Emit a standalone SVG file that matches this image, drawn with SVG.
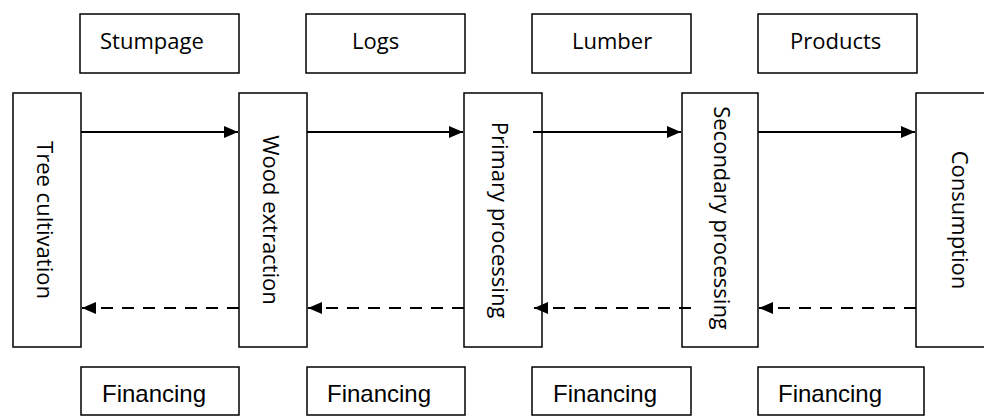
<svg xmlns="http://www.w3.org/2000/svg" width="984" height="419" viewBox="0 0 984 419">
  <style>
    .box { fill: #ffffff; stroke: #000000; stroke-width: 1.5; }
    .lbl { font-family: "Open Sans", "DejaVu Sans", sans-serif; font-size: 22px; fill: #000000; }
    .vlbl { font-family: "Open Sans", "DejaVu Sans", sans-serif; font-size: 22px; fill: #000000; text-anchor: middle; dominant-baseline: central; }
    .fin { font-family: "Liberation Sans", Arial, sans-serif; font-size: 24px; fill: #000000; }
    .flow { fill: none; stroke: #000000; stroke-width: 2; }
    .money { fill: none; stroke: #000000; stroke-width: 2; stroke-dasharray: 12 9; }
  </style>
  <defs>
    <marker id="head" viewBox="0 0 14 12" refX="14" refY="6" markerWidth="14" markerHeight="12" markerUnits="userSpaceOnUse" orient="auto">
      <path d="M0,0 L14,6 L0,12 Z" fill="#000000"/>
    </marker>
  </defs>

  <rect width="984" height="419" fill="#ffffff"/>

  <!-- goods labels along the top -->
  <g id="stumpage"><rect class="box" x="80" y="14" width="159" height="59"/><text class="lbl" x="100" y="49">Stumpage</text></g>
  <g id="logs"><rect class="box" x="306" y="14" width="159" height="59"/><text class="lbl" x="352" y="49">Logs</text></g>
  <g id="lumber"><rect class="box" x="532" y="14" width="159" height="59"/><text class="lbl" x="572" y="49">Lumber</text></g>
  <g id="products"><rect class="box" x="758" y="14" width="159" height="59"/><text class="lbl" x="790" y="49">Products</text></g>

  <!-- chain stages -->
  <g id="tree-cultivation"><rect class="box" x="13" y="93" width="68" height="254"/><text class="vlbl" transform="translate(46,220) rotate(90)">Tree cultivation</text></g>
  <g id="wood-extraction"><rect class="box" x="239" y="93" width="68" height="254"/><text class="vlbl" transform="translate(272,220) rotate(90)">Wood extraction</text></g>
  <g id="primary-processing"><rect class="box" x="464" y="93" width="78" height="254"/><text class="vlbl" transform="translate(501,220) rotate(90)">Primary processing</text></g>
  <g id="secondary-processing"><rect class="box" x="682" y="93" width="76" height="254"/><text class="vlbl" transform="translate(723,218) rotate(90)">Secondary processing</text></g>
  <g id="consumption"><rect class="box" x="916" y="93" width="96" height="254"/><text class="vlbl" transform="translate(961,220) rotate(90)">Consumption</text></g>

  <!-- financing labels along the bottom -->
  <g id="financing-1"><rect class="box" x="81" y="367" width="158" height="48"/><text class="fin" x="102" y="402">Financing</text></g>
  <g id="financing-2"><rect class="box" x="307" y="367" width="158" height="48"/><text class="fin" x="327" y="402">Financing</text></g>
  <g id="financing-3"><rect class="box" x="532" y="367" width="159" height="48"/><text class="fin" x="553" y="402">Financing</text></g>
  <g id="financing-4"><rect class="box" x="758" y="367" width="166" height="48"/><text class="fin" x="778" y="402">Financing</text></g>

  <!-- connectors: goods flow forward, money flows back -->
  <g id="connectors">
    <path class="flow" d="M81,132 H238" marker-end="url(#head)"/>
    <path class="flow" d="M307,132 H463" marker-end="url(#head)"/>
    <path class="flow" d="M533,132 H681" marker-end="url(#head)"/>
    <path class="flow" d="M758,132 H915" marker-end="url(#head)"/>
    <path class="money" d="M239,308 H82" marker-end="url(#head)"/>
    <path class="money" d="M464,308 H308" marker-end="url(#head)"/>
    <path class="money" d="M691,308 H534" marker-end="url(#head)"/>
    <path class="money" d="M916,308 H759" marker-end="url(#head)"/>
  </g>
</svg>
